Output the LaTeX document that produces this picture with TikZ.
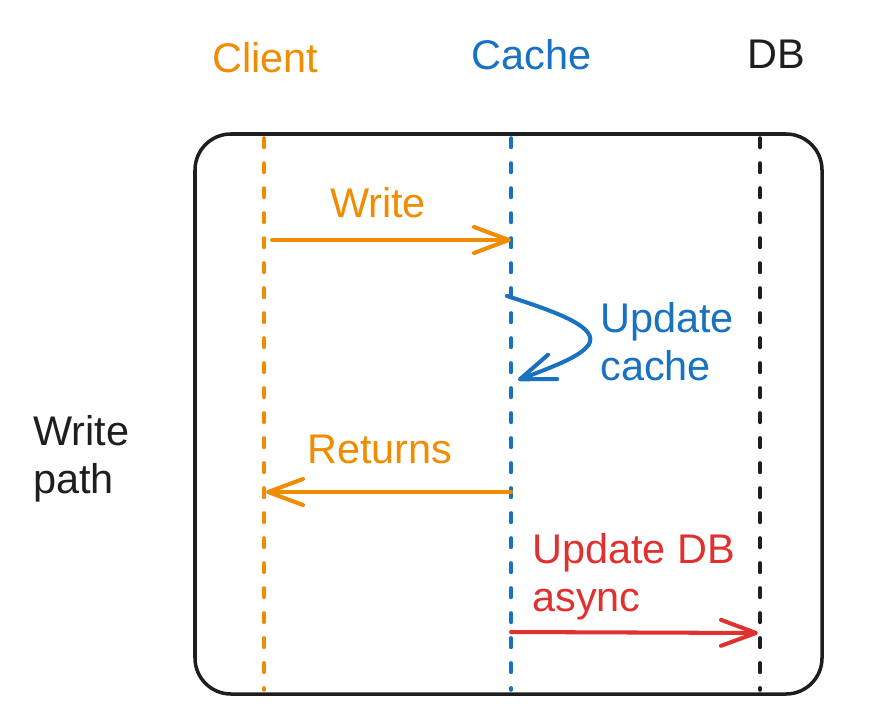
\documentclass[tikz,border=0pt]{standalone}
\usepackage{fontspec}
\setmainfont{Liberation Sans}
\usetikzlibrary{arrows.meta}
\definecolor{clientorange}{HTML}{F08C00}
\definecolor{cacheblue}{HTML}{1971C2}
\definecolor{dbred}{HTML}{E03131}
\definecolor{inkblack}{HTML}{1E1E1E}
\tikzset{txt/.style={inner sep=0pt, anchor=base west, align=left,
font=\fontsize{23.6}{27.3}\selectfont},
lifeline/.style={line width=2pt, line cap=round, dash pattern=on 0.19cm off 0.31cm},
msg/.style={line width=2.3pt, line cap=round,
-{Straight Barb[length=0.7cm,width=0.52cm,round]}},
bigbox/.style={draw=inkblack, line width=2pt, rounded corners=0.72cm}}

\begin{document}
\begin{tikzpicture}[x=0.02cm,y=-0.02cm]
  \useasboundingbox (0,0) rectangle (874,726);
  \draw [bigbox] (195,134) rectangle (822,694);

  \node (client) [txt,text=clientorange] at (212,73) {Client};
  \node (cache) [txt,text=cacheblue] at (471,70) {Cache};
  \node (db) [txt,text=inkblack] at (747,69) {DB};
  \node (path) [txt,text=inkblack] at (33,493) {Write\\path};

  \coordinate (clientT) at (264,138);
  \coordinate (clientB) at (264,690);
  \coordinate (cacheT) at (511,138);
  \coordinate (cacheB) at (511,690);
  \coordinate (dbT) at (760,138);
  \coordinate (dbB) at (760,690);
  \draw [lifeline,clientorange] (clientT) -- (clientB);
  \draw [lifeline,cacheblue] (cacheT) -- (cacheB);
  \draw [lifeline,inkblack] (dbT) -- (dbB);

  \coordinate (writeS) at (272,240);
  \coordinate (writeE) at (511,240);
  \coordinate (updS) at (507,296);
  \coordinate (updM) at (590,342);
  \coordinate (updE) at (518,380);
  \coordinate (retS) at (511,492);
  \coordinate (retE) at (266,492);
  \coordinate (asyncS) at (511,632);
  \coordinate (asyncE) at (758,633);

  \draw [msg,clientorange] (writeS) -- (writeE);
  \node (write) [txt,anchor=base,text=clientorange] at (378,217) {Write};

  \draw [msg,cacheblue] (updS) .. controls (550,310) and (595,325) .. (updM)
    .. controls (585,355) and (555,366) .. (updE);
  \node (update) [txt,text=cacheblue] at (600,380) {Update\\cache};

  \draw [msg,clientorange] (retS) -- (retE);
  \node (returns) [txt,anchor=base,text=clientorange] at (380,463) {Returns};

  \draw [msg,dbred] (asyncS) -- (asyncE);
  \node (async) [txt,text=dbred] at (532,611) {Update DB\\async};
\end{tikzpicture}
\end{document}
